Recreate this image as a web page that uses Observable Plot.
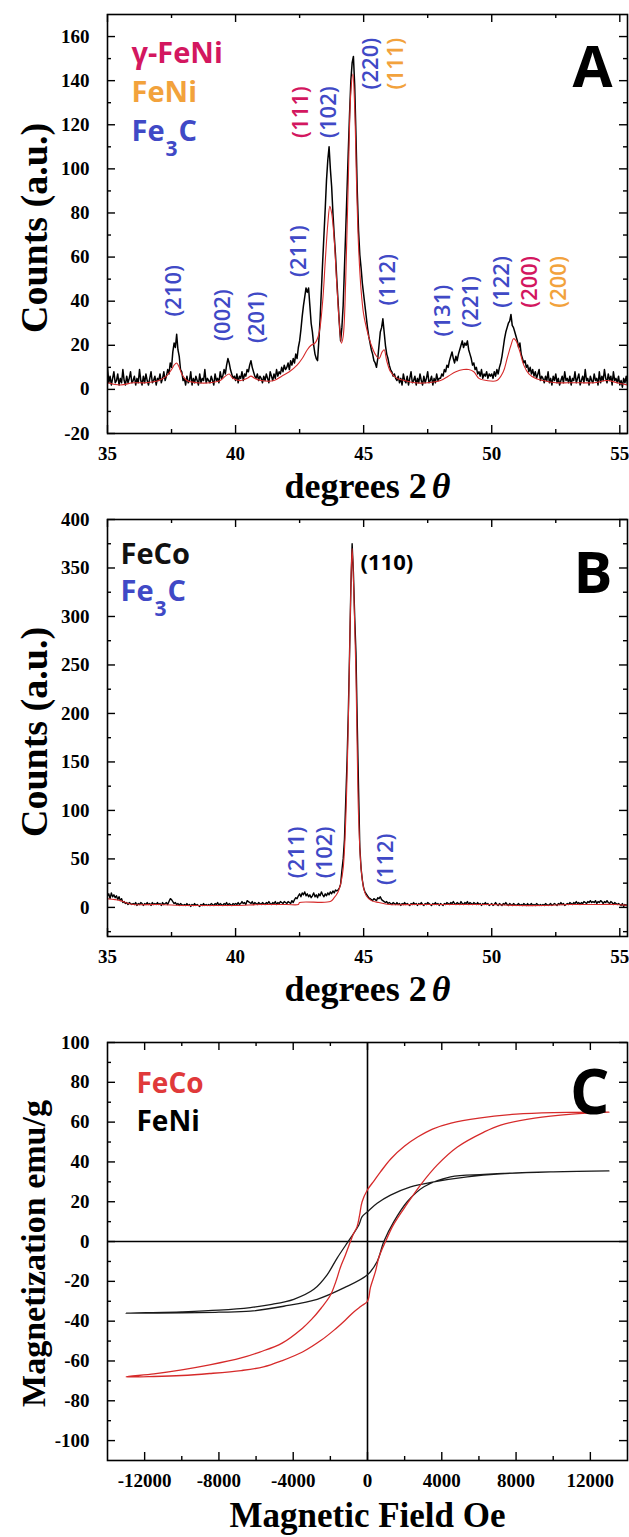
<!DOCTYPE html>
<html>
<head>
<meta charset="utf-8">
<script src="https://cdn.jsdelivr.net/npm/d3@7"></script>
<script src="https://cdn.jsdelivr.net/npm/@observablehq/plot@0.6"></script>
<style>
html,body{margin:0;padding:0;background:#fff;}
#chart{width:629px;height:1537px;overflow:hidden;background:#fff;}
#chart svg{display:block;}
</style>
</head>
<body>
<div id="chart"></div>
<script>
// ---------------- DATA ----------------
// Panel A: XRD scan (black), sampled every 0.05 deg from 35.00
const xrdA_start = 35, xrdA_step = 0.05;
const xrdA_counts = [
  10, 3, 6, 2, 5, 8, 3, 4, 7, 2, 5, 3, 9, 4, 2, 6, 3, 5, 8, 3,
  4, 6, 2, 5, 3, 9, 4, 2, 6, 3, 7, 4, 2, 5, 8, 3, 4, 6, 2, 5,
  4, 7, 3, 5, 8, 4, 6, 9, 7, 12, 10, 17, 21, 19, 25, 18, 15, 9, 8, 4,
  5, 2, 6, 3, 4, 8, 2, 5, 3, 6, 4, 2, 7, 3, 5, 4, 9, 3, 5, 4,
  3, 6, 4, 2, 7, 4, 5, 3, 8, 5, 6, 9, 7, 11, 14, 12, 9, 7, 5, 6,
  4, 7, 3, 6, 5, 8, 4, 7, 6, 9, 8, 11, 13, 10, 8, 6, 5, 7, 4, 6,
  5, 3, 6, 4, 7, 5, 3, 8, 6, 4, 7, 5, 9, 6, 8, 7, 10, 8, 11, 9,
  10, 12, 9, 13, 11, 14, 12, 16, 14, 19, 22, 27, 33, 38, 42, 46, 44, 46, 38, 30,
  26, 20, 16, 14, 13, 22, 32, 45, 58, 70, 82, 95, 104, 110, 100, 92, 80, 70, 61, 50,
  40, 30, 22, 28, 38, 55, 72, 90, 108, 125, 140, 148, 151, 138, 115, 90, 72, 61, 55, 48,
  43, 38, 33, 28, 24, 21, 18, 16, 13, 12, 10, 14, 20, 26, 28, 32, 26, 20, 16, 14,
  11, 9, 8, 6, 7, 5, 4, 6, 3, 5, 2, 7, 4, 3, 6, 2, 5, 8, 3, 4,
  6, 2, 5, 3, 7, 4, 2, 6, 3, 5, 8, 3, 4, 6, 2, 5, 3, 7, 4, 5,
  5, 7, 6, 9, 8, 11, 10, 13, 15, 17, 14, 12, 15, 13, 16, 18, 20, 22, 19, 21,
  20, 22, 18, 16, 14, 11, 12, 9, 10, 7, 8, 6, 9, 5, 7, 6, 8, 5, 7, 6,
  7, 5, 8, 6, 9, 7, 10, 12, 15, 19, 23, 26, 28, 30, 31, 34, 29, 28, 26, 24,
  22, 19, 21, 16, 14, 12, 13, 10, 11, 8, 10, 7, 9, 6, 8, 5, 7, 9, 4, 6,
  5, 3, 6, 4, 8, 3, 5, 2, 6, 4, 7, 3, 5, 2, 4, 6, 3, 8, 4, 5,
  3, 6, 2, 5, 4, 8, 3, 5, 7, 2, 4, 6, 3, 9, 4, 5, 2, 6, 4, 3,
  7, 4, 5, 2, 8, 3, 6, 4, 9, 5, 3, 7, 4, 6, 2, 8, 4, 5, 3, 6,
  2, 4, 1, 5, 3, 6, 2
];
// Panel A: fitted profile (red)
const fitA_twoTheta = [35.0, 35.5, 36.0, 36.5, 37.0, 37.3, 37.5, 37.6, 37.7, 37.8, 37.9, 38.1, 38.5, 39.0, 39.4, 39.6, 39.75, 39.9, 40.2, 40.45, 40.6, 40.75, 41.0, 41.5, 41.8, 42.1, 42.4, 42.6, 42.8, 42.95, 43.1, 43.25, 43.4, 43.5, 43.6, 43.68, 43.75, 43.85, 43.95, 44.05, 44.13, 44.2, 44.3, 44.4, 44.5, 44.58, 44.65, 44.72, 44.8, 44.9, 45.0, 45.15, 45.3, 45.45, 45.6, 45.72, 45.8, 45.9, 46.05, 46.3, 46.6, 47.0, 47.5, 48.0, 48.3, 48.6, 48.9, 49.1, 49.3, 49.5, 49.8, 50.2, 50.45, 50.6, 50.75, 50.85, 50.95, 51.1, 51.25, 51.45, 51.7, 52.0, 52.5, 53.0, 53.5, 54.0, 54.5, 54.9, 55.3];
const fitA_counts = [3, 2, 3, 3, 4, 6, 9, 11, 12, 10, 7, 4, 3, 3, 4, 6, 7, 5, 4, 5, 6, 5, 4, 4, 6, 8, 11, 14, 18, 20, 21, 25, 40, 58, 75, 83, 80, 68, 48, 30, 21, 24, 50, 95, 135, 143, 128, 95, 65, 45, 34, 26, 20, 16, 14, 17, 18, 13, 8, 5, 4, 3, 3, 4, 6, 8, 9, 9, 8, 5, 4, 4, 8, 14, 20, 23, 22, 17, 11, 7, 5, 4, 3, 3, 3, 3, 4, 3, 2];
// Panel A: peak labels
const peaksA_label = ["(210)", "(002)", "(201)", "(211)", "(111)", "(102)", "(220)", "(111)", "(112)", "(131)", "(221)", "(122)", "(200)", "(200)"];
const peaksA_phase = ["Fe3C", "Fe3C", "Fe3C", "Fe3C", "γ-FeNi", "Fe3C", "Fe3C", "FeNi", "Fe3C", "Fe3C", "Fe3C", "Fe3C", "γ-FeNi", "FeNi"];
const peaksA_twoTheta = [37.6, 39.52, 40.83, 42.49, 42.55, 43.64, 45.3, 46.27, 45.95, 48.1, 49.17, 50.4, 51.48, 52.64];
const peaksA_at = [33, 22, 21, 51, 114, 114, 136, 136, 38, 24, 28, 37, 37, 37];

// Panel B: XRD scan (black), sampled every 0.05 deg from 35.00
const xrdB_start = 35, xrdB_step = 0.05;
const xrdB_counts = [
  12, 14, 9, 15, 11, 13, 10, 12, 8, 11, 7, 9, 5, 6, 4, 5, 3, 5, 4, 3,
  4, 3, 5, 2, 4, 3, 5, 4, 2, 4, 3, 5, 3, 4, 2, 5, 3, 4, 3, 5,
  3, 4, 2, 5, 3, 4, 5, 3, 6, 9, 8, 6, 4, 5, 3, 4, 2, 4, 3, 2,
  3, 2, 4, 2, 3, 1, 3, 2, 4, 2, 3, 2, 1, 3, 2, 4, 2, 3, 2, 3,
  2, 4, 3, 2, 4, 3, 5, 2, 4, 3, 2, 4, 3, 5, 2, 4, 3, 2, 4, 3,
  4, 3, 5, 3, 4, 6, 4, 5, 3, 7, 6, 5, 4, 6, 3, 5, 4, 3, 5, 4,
  3, 5, 4, 3, 5, 4, 6, 4, 3, 5, 4, 6, 3, 5, 4, 6, 5, 4, 6, 5,
  4, 6, 5, 4, 7, 5, 8, 10, 9, 12, 14, 11, 15, 13, 16, 12, 14, 11, 13, 10,
  12, 15, 11, 13, 10, 14, 12, 16, 13, 11, 14, 12, 15, 13, 16, 14, 17, 15, 18, 17,
  18, 20, 24, 38, 50, 70, 110, 150, 200, 262, 330, 375, 345, 300, 262, 190, 124, 62, 40, 28,
  20, 16, 14, 12, 10, 9, 8, 7, 9, 8, 7, 10, 9, 11, 8, 7, 6, 5, 6, 4,
  5, 4, 3, 5, 4, 3, 5, 3, 4, 2, 4, 3, 5, 3, 4, 3, 2, 4, 3, 5,
  3, 4, 2, 4, 3, 5, 3, 2, 4, 3, 5, 4, 3, 2, 4, 3, 5, 3, 4, 2,
  4, 3, 2, 4, 3, 5, 4, 3, 5, 4, 6, 4, 3, 5, 4, 3, 6, 4, 3, 5,
  4, 6, 3, 5, 4, 3, 5, 4, 3, 5, 3, 4, 2, 4, 3, 5, 3, 4, 2, 3,
  4, 2, 3, 5, 3, 2, 4, 3, 2, 4, 3, 5, 3, 2, 4, 3, 2, 4, 3, 2,
  3, 4, 2, 3, 2, 4, 3, 2, 4, 2, 3, 4, 2, 3, 2, 4, 3, 2, 3, 2,
  3, 2, 4, 3, 2, 3, 4, 2, 3, 4, 3, 2, 4, 3, 5, 3, 4, 2, 3, 4,
  3, 5, 4, 3, 5, 4, 6, 4, 5, 3, 5, 4, 6, 5, 4, 6, 5, 7, 5, 6,
  5, 7, 4, 6, 5, 7, 6, 4, 6, 5, 7, 5, 4, 6, 5, 3, 5, 4, 3, 4,
  3, 2, 4, 1, 3, 2, 3
];
// Panel B: fitted profile (red)
const fitB_twoTheta = [35.0, 35.3, 35.5, 35.7, 36.0, 37.0, 38.0, 39.0, 40.0, 41.0, 42.0, 42.45, 42.5, 43.7, 43.85, 44.0, 44.1, 44.2, 44.3, 44.4, 44.45, 44.5, 44.55, 44.6, 44.65, 44.7, 44.75, 44.8, 44.9, 45.0, 45.1, 45.3, 45.6, 46.0, 47.0, 48.0, 49.0, 50.0, 51.0, 52.0, 53.0, 54.0, 54.8, 55.3];
const fitB_counts = [9, 8, 7, 5, 3, 3, 2, 2, 2, 3, 3, 3, 5, 6, 10, 16, 24, 40, 90, 190, 260, 330, 370, 340, 290, 240, 160, 95, 40, 20, 12, 7, 5, 3, 3, 3, 3, 3, 2, 2, 3, 3, 3, 2];
// Panel B: peak labels
const peaksB_label = ["(211)", "(102)", "(112)"];
const peaksB_twoTheta = [42.38, 43.47, 45.87];
const peaksB_at = [30, 30, 23];
const mainPeakB = {label: "(110)", twoTheta: 44.88, counts: 348};

// Panel C: hysteresis loops (field sweep down, then up)
const feCo_field = [13000, 10000, 8000, 6000, 4500, 3500, 2700, 2000, 1250, 700, 350, 0, -290, -430, -560, -750, -920, -1200, -1460, -1700, -2000, -2500, -3000, -3500, -4600, -5800, -6800, -8500, -10000, -11500, -13000,
  -11500, -10000, -8500, -6800, -5600, -4640, -3500, -2480, -1800, -1200, -755, -350, 0, 160, 430, 610, 970, 1400, 2140, 2860, 3760, 4840, 6270, 7170, 9000, 11000, 13000];
const feCo_mag = [65, 64.8, 64, 62, 59.5, 56.5, 52.5, 48, 41.5, 35, 30.5, 26, 20, 13, 7.5, 4, 0, -7, -13, -20, -27, -33.5, -39, -43.5, -51, -55.5, -58.5, -62, -64.5, -66.5, -68,
  -67.8, -67.3, -66.3, -64.8, -63, -60, -55.5, -49.5, -44.5, -39.5, -35.5, -32.5, -30, -23, -15, -8, 0, 8.5, 19, 28.5, 38.5, 47.5, 55, 58.5, 62, 64, 65];
const feNi_field = [13000, 10000, 7170, 5370, 3580, 2320, 1240, 520, 0, -290, -465, -916, -1100, -1635, -2175, -2890, -3970, -5230, -6310, -8000, -10000, -13000,
  -10000, -8000, -6310, -4510, -2710, -1275, 0, 520, 880, 1420, 2140, 3040, 4470, 6270, 8000, 10000, 13000];
const feNi_mag = [35.5, 35, 34, 32.5, 30, 27.5, 23.3, 19.2, 15, 12.5, 8.3, 1.7, -0.8, -8.3, -16.7, -24, -29, -31.7, -33.2, -34.5, -35.3, -36,
  -35.8, -35.5, -35, -32.5, -29, -23.3, -16.7, -10, 0, 10, 20, 27.5, 32.5, 33.7, 34.5, 35, 35.5];

// Tick values
const ticksXrd_major = [35, 40, 45, 50, 55];
const ticksXrd_minor = [37.5, 42.5, 47.5, 52.5];
const ticksA_yMajor = [-20, 0, 20, 40, 60, 80, 100, 120, 140, 160];
const ticksA_yMinor = [-10, 10, 30, 50, 70, 90, 110, 130, 150];
const ticksB_yMajor = [0, 50, 100, 150, 200, 250, 300, 350, 400];
const ticksB_yMinor = [-25, 25, 75, 125, 175, 225, 275, 325, 375];
const ticksC_xMajor = [-12000, -8000, -4000, 0, 4000, 8000, 12000];
const ticksC_xMinor = [-10000, -6000, -2000, 2000, 6000, 10000];
const ticksC_yMajor = [-100, -80, -60, -40, -20, 0, 20, 40, 60, 80, 100];
const ticksC_yMinor = [-90, -70, -50, -30, -10, 10, 30, 50, 70, 90];

// Legends
const legendA_phases = ["γ-FeNi", "FeNi", "Fe3C"];
const legendB_phases = ["FeCo", "Fe3C"];
const legendC_samples = ["FeCo", "FeNi"];

// ---------------- STYLE / LAYOUT ----------------
const W = 629, ML = 107, MR = 2;
const XRD_DOMAIN = [35, 55.3];
const SERIF = "Liberation Serif, Times New Roman, serif";
const SANS = "Open Sans, Noto Sans, sans-serif";
const phaseColor = {"Fe3C": "#4049c6", "γ-FeNi": "#d3175f", "FeNi": "#f2a23c", "FeCo": "#111111"};
const RED = "#d62a2a";

const cvs = document.createElement("canvas").getContext("2d");
function measure(text, font) { cvs.font = font; return cvs.measureText(text).width; }

function frameTicks(xs, ys, len, iw, ih) {
  const st = {stroke: "black", strokeWidth: 1.4};
  return [
    Plot.tickX(xs, {x: d => d, insetTop: ih - len, ...st}),
    Plot.tickX(xs, {x: d => d, insetBottom: ih - len, ...st}),
    Plot.tickY(ys, {y: d => d, insetRight: iw - len, ...st}),
    Plot.tickY(ys, {y: d => d, insetLeft: iw - len, ...st})
  ];
}
function allTicks(xMaj, xMin, yMaj, yMin, iw, ih) {
  return [...frameTicks(xMaj, yMaj, 8, iw, ih), ...frameTicks(xMin, yMin, 4, iw, ih)];
}
function axes(xMaj, yMaj) {
  const t = {tickSize: 0, label: null, tickFormat: d => String(d), fontSize: 19, fontWeight: 700, fontFamily: SERIF};
  return [
    Plot.axisX(xMaj, {...t, tickPadding: 13}),
    Plot.axisY(yMaj, {...t, tickPadding: 18})
  ];
}
function label(str, dx, dy, size, color, anchor = "top-left", textAnchor = "start", weight = 700) {
  return Plot.text([str], {text: d => d, frameAnchor: anchor, dx, dy, textAnchor, lineAnchor: "bottom",
    fontFamily: SANS, fontWeight: weight, fontSize: size, fill: color});
}
function legendEntry(name, dx, dy, size, color) {
  if (name !== "Fe3C") return [label(name, dx, dy, size, color)];
  const wFe = measure("Fe", `700 ${size}px ${SANS}`);
  const sub = Math.round(size * 0.74);
  const w3 = measure("3", `700 ${sub}px ${SANS}`);
  return [
    label("Fe", dx, dy, size, color),
    label("3", dx + wFe + 1, dy + 15, sub, color),
    label("C", dx + wFe + w3 + 2, dy, size, color)
  ];
}
function xTitleTheta(dy) {
  const f = `700 36px ${SERIF}`;
  const w1 = measure("degrees 2", f), w2 = measure("θ", `italic 700 36px ${SERIF}`), gap = 5;
  const left = -(w1 + gap + w2) / 2;
  return [
    Plot.text(["degrees 2"], {text: d => d, frameAnchor: "bottom", dx: left, dy, textAnchor: "start", lineAnchor: "bottom", fontFamily: SERIF, fontWeight: 700, fontSize: 36}),
    Plot.text(["θ"], {text: d => d, frameAnchor: "bottom", dx: left + w1 + gap, dy, textAnchor: "start", lineAnchor: "bottom", fontFamily: SERIF, fontWeight: 700, fontStyle: "italic", fontSize: 36})
  ];
}
function yTitle(str, size, baselineX, dy = 0) {
  return Plot.text([str], {text: d => d, frameAnchor: "left", rotate: -90, dx: baselineX - ML, dy, textAnchor: "middle", lineAnchor: "bottom",
    fontFamily: SERIF, fontWeight: 700, fontSize: size});
}

// ---------------- PANEL A ----------------
const xrdA = xrdA_counts.map((c, i) => ({t: xrdA_start + i * xrdA_step, c}));
const fitA = d3.range(Math.min(fitA_twoTheta.length, fitA_counts.length)).map(i => ({t: fitA_twoTheta[i], c: fitA_counts[i]}));
const peaksA = peaksA_label.map((l, i) => ({label: l, phase: peaksA_phase[i], t: peaksA_twoTheta[i], c: peaksA_at[i]}));
{
  const height = 508, mt = 14, mb = 75, iw = W - ML - MR, ih = height - mt - mb;
  const plot = Plot.plot({
    width: W, height, marginLeft: ML, marginRight: MR, marginTop: mt, marginBottom: mb,
    x: {domain: XRD_DOMAIN}, y: {domain: [-20, 170]},
    style: {fontFamily: SERIF, background: "white"},
    marks: [
      Plot.line(xrdA, {x: "t", y: "c", stroke: "black", strokeWidth: 1.5, clip: true}),
      Plot.line(fitA, {x: "t", y: "c", stroke: RED, strokeWidth: 1.1, curve: "catmull-rom", clip: true}),
      ...allTicks(ticksXrd_major, ticksXrd_minor, ticksA_yMajor, ticksA_yMinor, iw, ih),
      Plot.frame({stroke: "black", strokeWidth: 1.6}),
      ...axes(ticksXrd_major, ticksA_yMajor),
      Plot.text(peaksA, {x: "t", y: "c", text: "label", rotate: -90, textAnchor: "start", lineAnchor: "middle",
        fill: d => phaseColor[d.phase], fontFamily: SANS, fontWeight: 600, fontSize: 22}),
      ...legendA_phases.flatMap((p, i) => legendEntry(p, 24, [48, 87, 126][i], 29, phaseColor[p])),
      label("A", -15, 72, 58, "black", "top-right", "end", 700),
      ...xTitleTheta(64),
      yTitle("Counts (a.u.)", 38, 46, 4)
    ]
  });
  document.getElementById("chart").appendChild(plot);
}

// ---------------- PANEL B ----------------
const xrdB = xrdB_counts.map((c, i) => ({t: xrdB_start + i * xrdB_step, c}));
const fitB = d3.range(Math.min(fitB_twoTheta.length, fitB_counts.length)).map(i => ({t: fitB_twoTheta[i], c: fitB_counts[i]}));
const peaksB = peaksB_label.map((l, i) => ({label: l, t: peaksB_twoTheta[i], c: peaksB_at[i]}));
{
  const height = 517, mt = 11, mb = 89, iw = W - ML - MR, ih = height - mt - mb;
  const plot = Plot.plot({
    width: W, height, marginLeft: ML, marginRight: MR, marginTop: mt, marginBottom: mb,
    x: {domain: XRD_DOMAIN}, y: {domain: [-30, 400]},
    style: {fontFamily: SERIF, background: "white"},
    marks: [
      Plot.line(xrdB, {x: "t", y: "c", stroke: "black", strokeWidth: 1.4, clip: true}),
      Plot.line(fitB, {x: "t", y: "c", stroke: RED, strokeWidth: 1.1, curve: "catmull-rom", clip: true}),
      ...allTicks(ticksXrd_major, ticksXrd_minor, ticksB_yMajor, ticksB_yMinor, iw, ih),
      Plot.frame({stroke: "black", strokeWidth: 1.6}),
      ...axes(ticksXrd_major, ticksB_yMajor),
      Plot.text(peaksB, {x: "t", y: "c", text: "label", rotate: -90, textAnchor: "start", lineAnchor: "middle",
        fill: phaseColor["Fe3C"], fontFamily: SANS, fontWeight: 600, fontSize: 22}),
      Plot.text([mainPeakB], {x: "twoTheta", y: "counts", text: "label", textAnchor: "start", lineAnchor: "bottom",
        fill: "black", fontFamily: SANS, fontWeight: 700, fontSize: 22}),
      ...legendB_phases.flatMap((p, i) => legendEntry(p, 13, [44, 81][i], 29, phaseColor[p])),
      label("B", -15, 73, 58, "black", "top-right", "end", 700),
      ...xTitleTheta(64),
      yTitle("Counts (a.u.)", 38, 46, 4)
    ]
  });
  document.getElementById("chart").appendChild(plot);
}

// ---------------- PANEL C ----------------
const loops = [
  ...feCo_field.map((h, i) => ({sample: "FeCo", order: i, h, m: feCo_mag[i]})),
  ...feNi_field.map((h, i) => ({sample: "FeNi", order: i, h, m: feNi_mag[i]}))
].filter(d => d.m !== undefined);
{
  const height = 512, mt = 17, mb = 77, iw = W - ML - MR, ih = height - mt - mb;
  const plot = Plot.plot({
    width: W, height, marginLeft: ML, marginRight: MR, marginTop: mt, marginBottom: mb,
    x: {domain: [-14000, 14000]}, y: {domain: [-110, 100]},
    style: {fontFamily: SERIF, background: "white"},
    marks: [
      Plot.ruleX([0], {stroke: "black", strokeWidth: 1.6}),
      Plot.ruleY([0], {stroke: "black", strokeWidth: 1.6}),
      Plot.line(loops.filter(d => d.sample === "FeNi"), {x: "h", y: "m", stroke: "#1a1a1a", strokeWidth: 1.3, curve: "catmull-rom"}),
      Plot.line(loops.filter(d => d.sample === "FeCo"), {x: "h", y: "m", stroke: RED, strokeWidth: 1.3, curve: "catmull-rom"}),
      ...allTicks(ticksC_xMajor, ticksC_xMinor, ticksC_yMajor, ticksC_yMinor, iw, ih),
      Plot.frame({stroke: "black", strokeWidth: 1.6}),
      ...axes(ticksC_xMajor, ticksC_yMajor),
      ...legendC_samples.flatMap((s, i) => legendEntry(s, 29, [50, 88][i], 28, s === "FeCo" ? "#e0393a" : "black")),
      label("C", -18, 71, 62, "black", "top-right", "end", 700),
      Plot.text(["Magnetic Field Oe"], {text: d => d, frameAnchor: "bottom", dy: 66, textAnchor: "middle", lineAnchor: "bottom",
        fontFamily: SERIF, fontWeight: 700, fontSize: 35}),
      yTitle("Magnetization emu/g", 34, 44, 2)
    ]
  });
  document.getElementById("chart").appendChild(plot);
}
</script>
</body>
</html>
